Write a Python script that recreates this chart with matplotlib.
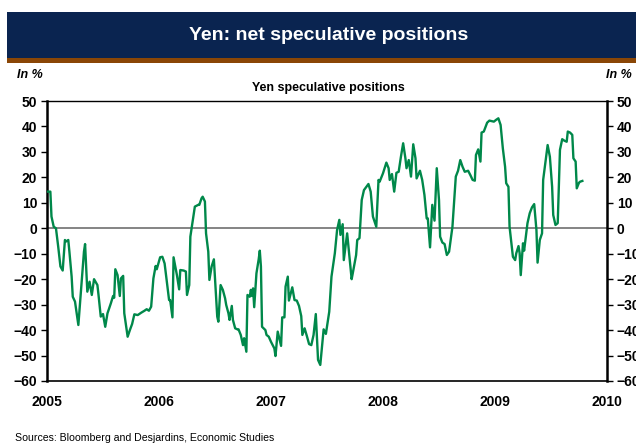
import numpy as np
import matplotlib.pyplot as plt
from matplotlib.patches import Rectangle

plt.rcParams['font.family'] = ['Liberation Sans', 'DejaVu Sans']

# Weekly net speculative positions on the yen (decimal year, % of open interest)
dates = [2005.01, 2005.03, 2005.04, 2005.06, 2005.08, 2005.10, 2005.12, 2005.14, 2005.16, 2005.17,
         2005.19, 2005.20, 2005.22, 2005.23, 2005.25, 2005.28, 2005.33, 2005.34, 2005.36, 2005.38,
         2005.40, 2005.42, 2005.45, 2005.46, 2005.48, 2005.50, 2005.52, 2005.54, 2005.57, 2005.59,
         2005.60, 2005.61, 2005.63, 2005.65, 2005.66, 2005.68, 2005.69, 2005.72, 2005.74, 2005.76,
         2005.78, 2005.81, 2005.84, 2005.87, 2005.89, 2005.91, 2005.93, 2005.95, 2005.97, 2005.98,
         2006.01, 2006.03, 2006.05, 2006.07, 2006.09, 2006.10, 2006.12, 2006.13, 2006.16, 2006.18,
         2006.19, 2006.22, 2006.24, 2006.25, 2006.27, 2006.28, 2006.32, 2006.35, 2006.36, 2006.38,
         2006.39, 2006.41, 2006.42, 2006.44, 2006.45, 2006.47, 2006.49, 2006.52, 2006.53, 2006.55,
         2006.57, 2006.59, 2006.60, 2006.62, 2006.63, 2006.65, 2006.66, 2006.68, 2006.70, 2006.71,
         2006.73, 2006.75, 2006.76, 2006.78, 2006.79, 2006.81, 2006.82, 2006.83, 2006.84, 2006.85,
         2006.87, 2006.89, 2006.90, 2006.91, 2006.92, 2006.95, 2006.96, 2006.98, 2007.00, 2007.03,
         2007.04, 2007.06, 2007.09, 2007.10, 2007.12, 2007.13, 2007.15, 2007.16, 2007.18, 2007.19,
         2007.21, 2007.23, 2007.25, 2007.27, 2007.28, 2007.30, 2007.32, 2007.34, 2007.36, 2007.38,
         2007.40, 2007.42, 2007.44, 2007.47, 2007.49, 2007.52, 2007.54, 2007.57, 2007.59, 2007.61,
         2007.62, 2007.64, 2007.65, 2007.68, 2007.69, 2007.72, 2007.73, 2007.76, 2007.77, 2007.79,
         2007.81, 2007.83, 2007.87, 2007.89, 2007.91, 2007.94, 2007.96, 2007.97, 2008.00, 2008.03,
         2008.05, 2008.06, 2008.08, 2008.10, 2008.12, 2008.14, 2008.16, 2008.18, 2008.20, 2008.21,
         2008.23, 2008.25, 2008.27, 2008.29, 2008.30, 2008.33, 2008.35, 2008.37, 2008.39, 2008.40,
         2008.42, 2008.44, 2008.46, 2008.48, 2008.50, 2008.51, 2008.53, 2008.55, 2008.57, 2008.59,
         2008.62, 2008.65, 2008.67, 2008.69, 2008.71, 2008.73, 2008.76, 2008.78, 2008.80, 2008.82,
         2008.83, 2008.85, 2008.87, 2008.88, 2008.90, 2008.93, 2008.95, 2008.99, 2009.01, 2009.03,
         2009.05, 2009.07, 2009.09, 2009.10, 2009.12, 2009.13, 2009.15, 2009.16, 2009.18, 2009.19,
         2009.21, 2009.22, 2009.23, 2009.25, 2009.26, 2009.29, 2009.31, 2009.33, 2009.35, 2009.37,
         2009.38, 2009.40, 2009.42, 2009.43, 2009.46, 2009.47, 2009.49, 2009.51, 2009.52, 2009.54,
         2009.56, 2009.58, 2009.60, 2009.62, 2009.64, 2009.65, 2009.67, 2009.69, 2009.70, 2009.72,
         2009.73, 2009.75, 2009.76, 2009.78]

positions = [14.4, 14.4, 4.6, 0.6, 0.0, -7.2, -15.0, -16.6, -4.6, -5.2,
             -4.6, -9.2, -19.0, -26.9, -28.8, -38.0, -9.2, -6.2, -24.9, -21.0,
             -26.2, -20.0, -22.3, -26.2, -34.7, -33.7, -38.7, -33.4, -29.5, -26.6,
             -27.3, -16.1, -18.4, -26.6, -19.7, -18.7, -33.4, -42.6, -40.0, -37.6,
             -33.8, -34.1, -33.2, -32.4, -31.8, -32.4, -30.8, -19.7, -14.8, -16.1,
             -11.4, -11.2, -13.8, -21.0, -28.2, -28.2, -35.0, -11.4, -18.4, -24.0,
             -16.4, -16.6, -17.0, -26.2, -22.3, -3.3, 8.5, 9.2, 9.2, 11.8,
             12.4, 10.5, -2.0, -9.2, -20.3, -15.0, -12.2, -34.7, -36.7, -22.3,
             -24.2, -27.5, -30.1, -33.4, -36.0, -30.5, -36.0, -39.3, -39.7, -39.7,
             -41.9, -45.9, -43.2, -48.5, -26.2, -26.9, -24.2, -26.6, -23.6, -31.0,
             -17.7, -12.2, -8.8, -15.0, -38.7, -40.0, -41.9, -42.6, -44.6, -47.2,
             -50.2, -40.6, -46.2, -35.0, -35.0, -22.9, -19.0, -28.4, -24.9, -23.2,
             -28.2, -28.4, -30.5, -34.5, -41.9, -39.3, -42.3, -45.5, -45.9, -41.9,
             -33.7, -51.7, -53.7, -39.7, -41.5, -32.8, -19.0, -9.8, -0.7, 3.3,
             -2.6, 1.6, -12.5, -2.0, -6.6, -20.0, -17.7, -10.5, -4.6, -3.9,
             11.1, 15.0, 17.4, 14.4, 4.6, 0.6, 19.0, 18.3, 21.6, 25.8,
             23.6, 19.0, 21.3, 14.4, 21.8, 22.2, 28.1, 33.4, 27.5, 23.6,
             26.8, 20.3, 33.0, 27.5, 19.6, 22.6, 19.0, 13.1, 3.9, 3.9,
             -7.5, 9.2, 3.0, 23.6, 11.1, -3.3, -5.6, -6.2, -10.5, -9.2,
             0.6, 20.3, 22.6, 26.8, 24.2, 22.2, 22.6, 20.9, 19.0, 18.7,
             28.8, 31.0, 26.2, 37.6, 38.0, 41.5, 42.3, 41.9, 42.6, 43.2,
             40.6, 31.4, 24.2, 17.7, 16.3, 0.6, -7.2, -11.2, -12.5, -9.8,
             -7.0, -9.8, -18.4, -5.9, -8.8, 2.0, 5.9, 8.2, 9.5, -0.7,
             -13.5, -4.6, -2.0, 19.0, 29.5, 32.7, 28.1, 16.3, 5.2, 1.3,
             2.0, 30.8, 35.0, 34.4, 34.0, 38.0, 37.6, 36.7, 27.5, 26.2,
             15.7, 17.9, 18.3, 18.6]

years = [2005, 2006, 2007, 2008, 2009, 2010]
yticks = [50, 40, 30, 20, 10, 0, -10, -20, -30, -40, -50, -60]

navy = '#0a2450'
brown = '#8a4606'
green = '#00884a'

fig = plt.figure(figsize=(6.36, 4.44), dpi=100)

# title banner
fig.patches.append(Rectangle((0.011, 0.869), 0.989, 0.104, transform=fig.transFigure,
                             facecolor=navy, edgecolor='none'))
fig.patches.append(Rectangle((0.011, 0.858), 0.989, 0.012, transform=fig.transFigure,
                             facecolor=brown, edgecolor='none'))
fig.text(0.516, 0.921, 'Yen: net speculative positions', color='white',
         fontsize=14, fontweight='bold', ha='center', va='center')

ax = fig.add_axes([0.0739, 0.1419, 0.8805, 0.6306])
ax.plot(dates, positions, color=green, lw=1.7, zorder=3)
ax.axhline(0, color='#707070', lw=1.2, zorder=2)

ax.set_xlim(2005, 2010)
ax.set_ylim(-60, 50)
ax.set_xticks(years)
ax.set_xticklabels([str(y) for y in years])
ax.set_yticks(yticks)

ax.tick_params(axis='x', length=0, pad=10, labelsize=10)
ax.tick_params(axis='y', direction='out', length=4, width=1, labelsize=10,
               left=True, right=True, labelleft=True, labelright=True, pad=3)
for lab in ax.get_xticklabels() + ax.get_yticklabels():
    lab.set_fontweight('bold')

for side in ['left', 'right']:
    ax.spines[side].set_linewidth(1.8)
ax.spines['bottom'].set_linewidth(1.2)
ax.spines['top'].set_linewidth(1.0)

fig.text(0.516, 0.802, 'Yen speculative positions', fontsize=9, fontweight='bold',
         ha='center', va='center')
fig.text(0.027, 0.831, 'In %', fontsize=9, fontweight='bold', style='italic',
         ha='left', va='center')
fig.text(0.953, 0.831, 'In %', fontsize=9, fontweight='bold', style='italic',
         ha='left', va='center')
fig.text(0.024, 0.013, 'Sources: Bloomberg and Desjardins, Economic Studies', fontsize=7.6,
         ha='left', va='center')

fig.savefig('out.png', dpi=100)
